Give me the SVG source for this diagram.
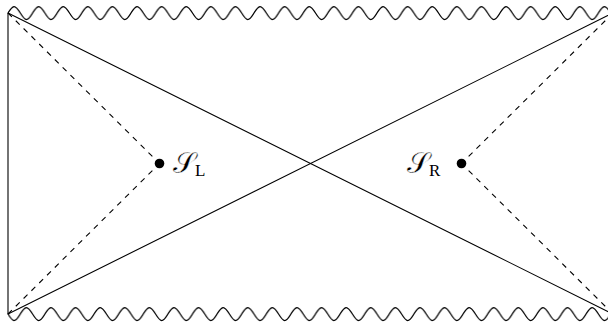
<svg xmlns="http://www.w3.org/2000/svg" width="608" height="325" viewBox="0 0 608 325">
<style>
.ln{fill:none;stroke:#000;stroke-width:1.1;stroke-linecap:round}
.dash{fill:none;stroke:#000;stroke-width:1.1;stroke-dasharray:5.5,5.5}
.wave{fill:none;stroke:#000;stroke-width:1.25}
.dot{fill:#000}
.lab{font-family:"DejaVu Serif","Liberation Serif",serif;font-size:29px;fill:#000;stroke:#fff;stroke-width:0.4}
.sub{font-family:"Liberation Serif",serif;font-size:17px;stroke:none}
</style>
<defs>
<pattern id="snakeTop" patternUnits="userSpaceOnUse" x="8" y="0" width="24.6" height="26">
<path class="wave" d="M-6.15,19.5 c2.226,0 4.144,-3.17 6.15,-6.5 c2.006,-3.33 3.924,-6.5 6.15,-6.5 c2.226,0 4.144,3.17 6.15,6.5 c2.006,3.33 3.924,6.5 6.15,6.5 c2.226,0 4.144,-3.17 6.15,-6.5 c2.006,-3.33 3.924,-6.5 6.15,-6.5"/>
</pattern>
<pattern id="snakeBottom" patternUnits="userSpaceOnUse" x="20.3" y="301" width="24.6" height="26">
<path class="wave" d="M-6.15,19.5 c2.226,0 4.144,-3.17 6.15,-6.5 c2.006,-3.33 3.924,-6.5 6.15,-6.5 c2.226,0 4.144,3.17 6.15,6.5 c2.006,3.33 3.924,6.5 6.15,6.5 c2.226,0 4.144,-3.17 6.15,-6.5 c2.006,-3.33 3.924,-6.5 6.15,-6.5"/>
</pattern>
</defs>
<rect width="608" height="325" fill="#fff"/>
<g id="boundaries">
<path class="ln" d="M8,13 V314"/>
<rect id="top-singularity" x="8" y="0" width="600" height="26" fill="url(#snakeTop)"/>
<rect id="bottom-singularity" x="8" y="301" width="600" height="24" fill="url(#snakeBottom)"/>
</g>
<g id="connectors">
<path class="ln" d="M8,13 L613,314"/>
<path class="ln" d="M8,314 L613,13"/>
<path class="dash" d="M8,13 L159.5,163.5"/>
<path class="dash" d="M8,314 L159.5,163.5"/>
<path class="dash" d="M613,13 L461.5,163.5"/>
<path class="dash" d="M613,314 L461.5,163.5"/>
</g>
<g id="S_L">
<circle class="dot" cx="159.5" cy="163.5" r="4.8"/>
<text class="lab" x="173" y="173">𝒮<tspan class="sub" dy="3">L</tspan></text>
</g>
<g id="S_R">
<circle class="dot" cx="461.5" cy="163.5" r="4.8"/>
<text class="lab" x="407" y="173">𝒮<tspan class="sub" dy="3">R</tspan></text>
</g>
</svg>
